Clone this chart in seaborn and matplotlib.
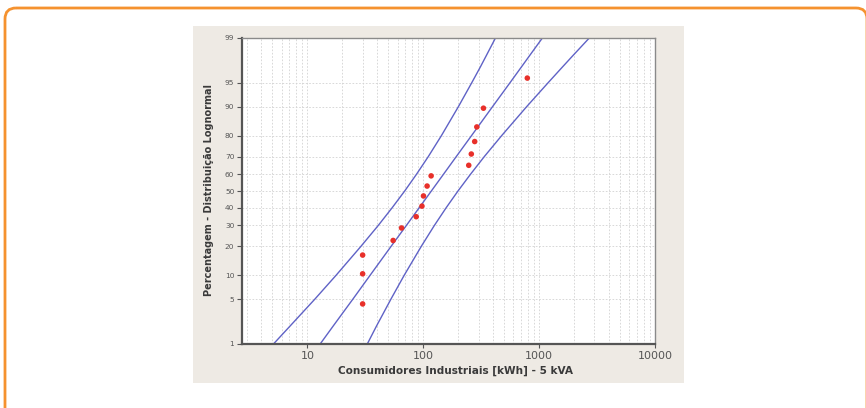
import numpy as np
import matplotlib
matplotlib.use("Agg")
import matplotlib.pyplot as plt
import seaborn as sns
from statistics import NormalDist
from matplotlib.patches import FancyBboxPatch, Rectangle
from matplotlib.ticker import FixedLocator, LogLocator, NullFormatter, FixedFormatter

# ---- data ----
consumo_kwh = [30, 30, 30, 55, 65, 87, 97.5, 100.5, 108, 117, 247, 260, 278, 290, 331, 791]
percentagem = [4.3, 10.4, 16.5, 22.6, 28.7, 34.8, 40.9, 47.0, 53.0, 59.1, 65.2, 71.3, 77.4, 83.5, 89.6, 95.7]

nivel_pct = [1, 2, 3, 5, 10, 20, 30, 40, 50, 60, 70, 80, 90, 95, 97, 98, 99]
ajuste_kwh = [12.9, 16.7, 19.7, 24.7, 34.8, 52.8, 71.5, 92.4, 117.5, 149.4, 193, 261, 396, 560, 700, 824, 1067]
limite_inf_kwh = [5.1, 7.09, 8.73, 11.6, 17.7, 29.0, 40.9, 54.0, 69.2, 87.4, 110.7, 143.5, 201, 262, 310, 349, 420]
limite_sup_kwh = [32.9, 39.5, 44.6, 52.6, 68.5, 96.2, 124.7, 157.9, 199.5, 255.5, 337, 475, 780, 1194, 1581, 1945, 2710]

x_ticks = [10, 100, 1000, 10000]
x_tick_labels = ["10", "100", "1000", "10000"]
y_ticks = [1, 5, 10, 20, 30, 40, 50, 60, 70, 80, 90, 95, 99]
y_tick_labels = ["1", "5", "10", "20", "30", "40", "50", "60", "70", "80", "90", "95", "99"]

x_label = "Consumidores Industriais [kWh] - 5 kVA"
y_label = "Percentagem - Distribuição Lognormal"

# ---- probability scale ----
_nd = NormalDist()
_ppf = np.vectorize(_nd.inv_cdf, otypes=[float])
_cdf = np.vectorize(_nd.cdf, otypes=[float])


def fwd(p):
    p = np.clip(np.asarray(p, dtype=float) / 100.0, 1e-9, 1 - 1e-9)
    return _ppf(p)


def inv(z):
    return _cdf(np.asarray(z, dtype=float)) * 100.0


sns.set_theme(style="white")
plt.rcParams["font.family"] = ["DejaVu Sans"]

W, H = 866, 408
fig = plt.figure(figsize=(W / 100, H / 100), dpi=100)
fig.patch.set_facecolor("white")

# background decoration axes in pixel coordinates
bg = fig.add_axes([0, 0, 1, 1], zorder=0)
bg.set_xlim(0, W)
bg.set_ylim(H, 0)
bg.axis("off")
bg.add_patch(FancyBboxPatch((5, 8), 862, 440, boxstyle="round,pad=0,rounding_size=11",
                            facecolor="none", edgecolor="#F5922F", linewidth=2.0))
bg.add_patch(Rectangle((193, 26), 491, 357, facecolor="#EEEAE4", edgecolor="none"))

# main chart axes
L, R, T, B = 242, 655, 38, 344
ax = fig.add_axes([L / W, (H - B) / H, (R - L) / W, (B - T) / H], zorder=1)
ax.set_facecolor("white")
ax.set_xscale("log")
ax.set_yscale("function", functions=(fwd, inv))

line_color = "#5F62C6"
for serie in (limite_inf_kwh, ajuste_kwh, limite_sup_kwh):
    sns.lineplot(x=serie, y=nivel_pct, sort=False, estimator=None, ax=ax,
                 color=line_color, linewidth=1.0)
sns.scatterplot(x=consumo_kwh, y=percentagem, ax=ax, color="#E8302A", s=16,
                edgecolor="none", zorder=5)

ax.set_xlim(2.73, 10000)
ax.set_ylim(1, 99)

ax.xaxis.set_major_locator(FixedLocator(x_ticks))
ax.xaxis.set_major_formatter(FixedFormatter(x_tick_labels))
ax.xaxis.set_minor_locator(LogLocator(base=10, subs=np.arange(2, 10)))
ax.xaxis.set_minor_formatter(NullFormatter())
ax.yaxis.set_major_locator(FixedLocator(y_ticks))
ax.yaxis.set_major_formatter(FixedFormatter(y_tick_labels))
ax.yaxis.set_minor_locator(FixedLocator([]))

ax.grid(True, which="both", axis="x", color="#D2D2D2", linestyle=(0, (2, 2)), linewidth=0.6)
ax.grid(True, which="major", axis="y", color="#D2D2D2", linestyle=(0, (2, 2)), linewidth=0.6)
ax.set_axisbelow(True)

ax.tick_params(axis="x", which="major", direction="out", length=3, width=0.8,
               color="#555555", labelsize=8, labelcolor="#555555", pad=2, bottom=True)
ax.tick_params(axis="x", which="minor", length=0)
ax.tick_params(axis="y", which="major", direction="out", length=3.5, width=0.8,
               color="#555555", labelsize=5.3, labelcolor="#555555", pad=2, left=True)

for side in ["left", "bottom"]:
    ax.spines[side].set_color("#555555")
    ax.spines[side].set_linewidth(1.6)
for side in ["top", "right"]:
    ax.spines[side].set_color("#8A8A8A")
    ax.spines[side].set_linewidth(1.0)

ax.set_xlabel(x_label, fontsize=7.6, fontweight="bold", color="#3A3A3A")
ax.set_ylabel(y_label, fontsize=7.0, fontweight="bold", color="#3A3A3A")
ax.xaxis.set_label_coords((455 - L) / (R - L), (B - 371) / (B - T))
ax.xaxis.label.set_va("center")
ax.yaxis.set_label_coords((209 - L) / (R - L), (B - 190) / (B - T))
ax.yaxis.label.set_va("center")

fig.savefig("out.png", dpi=100)
